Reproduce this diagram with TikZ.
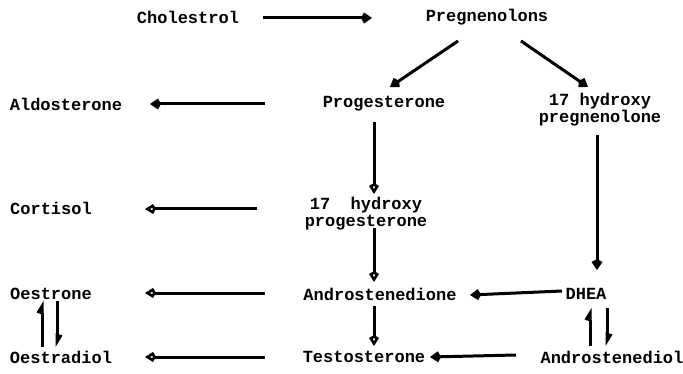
\documentclass[tikz,border=0pt]{standalone}
\usepackage{fontspec}
\setmonofont{Liberation Mono}
\usetikzlibrary{arrows.meta}
\begin{document}
\begin{tikzpicture}[x=1pt,y=-1pt,
  lbl/.style={inner sep=0pt, font=\ttfamily\bfseries\fontsize{17}{17}\selectfont, align=center},
  conn/.style={line width=3pt},
  solidhead/.style={conn, -{Kite[length=11pt,width=11pt,inset=3pt]}},
  openhead/.style={conn, -{Kite[open,length=11pt,width=10pt,inset=3pt,line width=2.6pt]}},
  harp/.style={conn, -{Kite[harpoon,length=11pt,width=11pt,inset=2pt]}}]
\useasboundingbox (0,0) rectangle (683,374);
% nodes
\node[lbl] (chol) at (188,17) {Cholestrol};
\node[lbl] (preg) at (487,17) {Pregnenolons};
\node[lbl] (aldo) at (66,104) {Aldosterone};
\node[lbl] (prog) at (384,104) {Progesterone};
\node[lbl] (ohpreg) at (600,110) {17 hydroxy\\pregnenolone};
\node[lbl] (cort) at (51,208) {Cortisol};
\node[lbl] (ohprog) at (366,214) {17\ \ hydroxy\\progesterone};
\node[lbl] (oestrone) at (51,294) {Oestrone};
\node[lbl] (andro) at (380,294) {Androstenedione};
\node[lbl] (dhea) at (586,294) {DHEA};
\node[lbl] (oestradiol) at (61,357) {Oestradiol};
\node[lbl] (testo) at (364,357) {Testosterone};
\node[lbl] (androl) at (612,357) {Androstenediol};
% connectors
\draw[solidhead] ([shift={(75,1)}]chol.center) -- ([shift={(-115,1)}]preg.center);
\draw[solidhead] ([shift={(-29,24)}]preg.center) -- ([shift={(6,-17)}]prog.center);
\draw[solidhead] ([shift={(34,24)}]preg.center) -- ([shift={(-12,-23)}]ohpreg.center);
\draw[solidhead] ([shift={(-119,0)}]prog.center) -- ([shift={(84,0)}]aldo.center);
\draw[openhead] ([shift={(-10,18)}]prog.center) -- ([shift={(8,-20)}]ohprog.center);
\draw[solidhead] ([shift={(-3,25)}]ohpreg.center) -- ([shift={(11,-24)}]dhea.center);
\draw[openhead] ([shift={(-109,-5)}]ohprog.center) -- ([shift={(94,1)}]cort.center);
\draw[openhead] ([shift={(8,14)}]ohprog.center) -- ([shift={(-6,-12)}]andro.center);
\draw[openhead] ([shift={(-115,-1)}]andro.center) -- ([shift={(94,-1)}]oestrone.center);
\draw[solidhead] ([shift={(-24,-3)}]dhea.center) -- ([shift={(90,1)}]andro.center);
\draw[openhead] ([shift={(-6,12)}]andro.center) -- ([shift={(10,-11)}]testo.center);
\draw[openhead] ([shift={(-99,0)}]testo.center) -- ([shift={(84,0)}]oestradiol.center);
\draw[solidhead] ([shift={(-96,-2)}]androl.center) -- ([shift={(66,0)}]testo.center);
\draw[harp] ([shift={(-19,-10)}]oestradiol.center) -- ([shift={(-9,7)}]oestrone.center);
\draw[harp] ([shift={(6,7)}]oestrone.center) -- ([shift={(-4,-10)}]oestradiol.center);
\draw[harp] ([shift={(-22,-11)}]androl.center) -- ([shift={(4,14)}]dhea.center);
\draw[harp] ([shift={(21,14)}]dhea.center) -- ([shift={(-5,-11)}]androl.center);
\end{tikzpicture}
\end{document}
